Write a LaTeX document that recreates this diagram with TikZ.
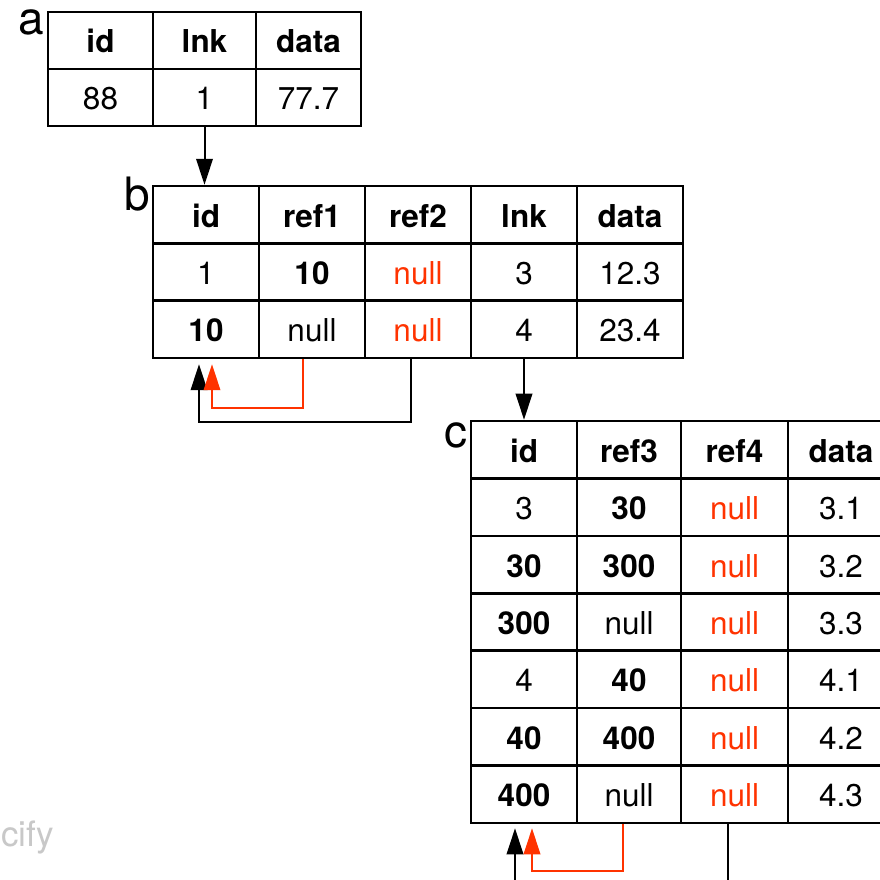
\documentclass[tikz,border=0pt]{standalone}
\usepackage{fontspec}
\setmainfont{TeX Gyre Heros}
\usetikzlibrary{arrows.meta}
\definecolor{nullred}{RGB}{255,51,0}
\definecolor{wmgray}{RGB}{200,200,200}
\begin{document}
\begin{tikzpicture}[x=1pt,y=-1pt,
  cell/.style={draw,line width=2.5pt,inner sep=0pt,text height=25pt,text depth=0pt,
    font=\fontsize{31.5}{36}\selectfont},
  ca/.style={cell,minimum height=57pt},
  cb/.style={cell,minimum height=57.3pt,minimum width=106pt},
  cc/.style={cell,minimum height=57.43pt},
  nl/.style={text=nullred},
  tlabel/.style={anchor=base west,inner sep=0pt,font=\fontsize{46}{50}\selectfont},
  link/.style={line width=2pt,-{Triangle[length=26pt,width=16.5pt]}},
  rlink/.style={link,draw=nullred}]
\useasboundingbox (0,0) rectangle (880,880);
\clip (0,0) rectangle (880,880);
\fill[white] (0,0) rectangle (880,880);
% table a
\node[ca,minimum width=105pt] (a11) at (100.5,40.5) {\textbf{id}};
\node[ca,minimum width=103pt] (a12) at (204.5,40.5) {\textbf{lnk}};
\node[ca,minimum width=105pt] (a13) at (308.5,40.5) {\textbf{data}};
\node[ca,minimum width=105pt] (a21) at (100.5,97.5) {88};
\node[ca,minimum width=103pt] (a22) at (204.5,97.5) {1};
\node[ca,minimum width=105pt] (a23) at (308.5,97.5) {77.7};
\node[tlabel] (la) at (18,35) {a};
% table b
\node[cb] (b11) at (206,214.7) {\textbf{id}};
\node[cb] (b12) at (312,214.7) {\textbf{ref1}};
\node[cb] (b13) at (418,214.7) {\textbf{ref2}};
\node[cb] (b14) at (524,214.7) {\textbf{lnk}};
\node[cb] (b15) at (630,214.7) {\textbf{data}};
\node[cb] (b21) at (206,272) {1};
\node[cb] (b22) at (312,272) {\textbf{10}};
\node[cb,nl] (b23) at (418,272) {null};
\node[cb] (b24) at (524,272) {3};
\node[cb] (b25) at (630,272) {12.3};
\node[cb] (b31) at (206,329.3) {\textbf{10}};
\node[cb] (b32) at (312,329.3) {null};
\node[cb,nl] (b33) at (418,329.3) {null};
\node[cb] (b34) at (524,329.3) {4};
\node[cb] (b35) at (630,329.3) {23.4};
\node[tlabel] (lb) at (124,210) {b};
% table c
\tikzset{c1/.style={cc,minimum width=106pt},c2/.style={cc,minimum width=104pt},
  c3/.style={cc,minimum width=107pt,nl},c4/.style={cc,minimum width=106pt}}
\node[c1] (c11) at (524,449.7) {\textbf{id}};
\node[c2] (c12) at (629,449.7) {\textbf{ref3}};
\node[c3,text=black] (c13) at (734.5,449.7) {\textbf{ref4}};
\node[c4] (c14) at (841,449.7) {\textbf{data}};
\node[c1] (c21) at (524,507.1) {3};
\node[c2] (c22) at (629,507.1) {\textbf{30}};
\node[c3] (c23) at (734.5,507.1) {null};
\node[c4] (c24) at (841,507.1) {3.1};
\node[c1] (c31) at (524,564.6) {\textbf{30}};
\node[c2] (c32) at (629,564.6) {\textbf{300}};
\node[c3] (c33) at (734.5,564.6) {null};
\node[c4] (c34) at (841,564.6) {3.2};
\node[c1] (c41) at (524,622.0) {\textbf{300}};
\node[c2] (c42) at (629,622.0) {null};
\node[c3] (c43) at (734.5,622.0) {null};
\node[c4] (c44) at (841,622.0) {3.3};
\node[c1] (c51) at (524,679.4) {4};
\node[c2] (c52) at (629,679.4) {\textbf{40}};
\node[c3] (c53) at (734.5,679.4) {null};
\node[c4] (c54) at (841,679.4) {4.1};
\node[c1] (c61) at (524,736.9) {\textbf{40}};
\node[c2] (c62) at (629,736.9) {\textbf{400}};
\node[c3] (c63) at (734.5,736.9) {null};
\node[c4] (c64) at (841,736.9) {4.2};
\node[c1] (c71) at (524,794.3) {\textbf{400}};
\node[c2] (c72) at (629,794.3) {null};
\node[c3] (c73) at (734.5,794.3) {null};
\node[c4] (c74) at (841,794.3) {4.3};
\node[tlabel] (lc) at (444,447) {c};
% connectors
\draw[link] (a22.south) -- (a22.south |- b11.north);
\draw[link] (b34.south) -- (b34.south |- c11.north);
\draw[link] ([xshift=-7pt]b33.south) -- ++(0,63) -| ([xshift=-7pt,yshift=-5pt]b31.south);
\draw[rlink] ([xshift=-9pt]b32.south) -- ++(0,49) -| ([xshift=6pt,yshift=-5pt]b31.south);
\draw[link] ([xshift=-6.5pt]c73.south) -- ++(0,90) -| ([xshift=-9pt,yshift=-4pt]c71.south);
\draw[rlink] ([xshift=-6pt]c72.south) -- ++(0,47) -| ([xshift=8pt,yshift=-4pt]c71.south);
% watermark
\node[anchor=base west,inner sep=0pt,text=wmgray,font=\fontsize{35}{40}\selectfont] (wm) at (1,846) {cify};
\end{tikzpicture}
\end{document}
